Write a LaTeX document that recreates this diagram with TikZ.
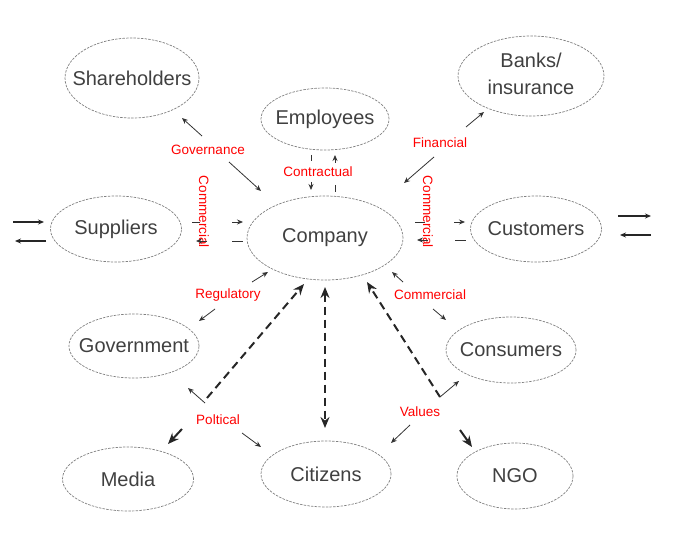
\documentclass[tikz,border=0pt]{standalone}
\usepackage{fontspec}
\setmainfont{Liberation Sans}
\usetikzlibrary{shapes.geometric,arrows.meta}
\definecolor{txt}{gray}{0.25}
\definecolor{edgec}{gray}{0.5}
\tikzset{
  stake/.style={ellipse, draw=edgec, dash pattern=on 2.5pt off 1.2pt, line width=0.7pt,
    inner sep=0pt, font=\fontsize{20}{27}\selectfont, text=txt},
  thinarr/.style={-{Stealth[length=6pt,width=5pt]}, line width=0.8pt, draw=black!80},
  tickline/.style={line width=0.9pt, draw=black!80},
  bigarr/.style={-{Stealth[length=11pt,width=9pt]}, line width=2pt, draw=black!85},
  bigdash/.style={bigarr, dash pattern=on 8pt off 5pt},
  sidearr/.style={-{Stealth[length=6pt,width=5pt]}, line width=1.1pt, draw=black!85},
  rel/.style={text=red, font=\fontsize{13.5}{15}\selectfont, inner sep=1pt},
}
\begin{document}
\begin{tikzpicture}[x=1pt,y=-1pt]
\useasboundingbox (0,0) rectangle (676,537);
% stakeholders
\node[stake, minimum width=134pt, minimum height=80pt] (sh) at (132,78) {\makebox[0pt]{Shareholders}};
\node[stake, minimum width=128pt, minimum height=62pt] (emp) at (325,119) {\makebox[0pt]{Employees}};
\node[stake, minimum width=146pt, minimum height=80pt] (bank) at (531,76) {\makebox[0pt]{\begin{tabular}{@{}c@{}}Banks/\\insurance\end{tabular}}};
\node[stake, minimum width=131pt, minimum height=66pt] (sup) at (116,229) {\makebox[0pt]{Suppliers}};
\node[stake, minimum width=156pt, minimum height=84pt] (comp) at (325,238) {\makebox[0pt]{Company}};
\node[stake, minimum width=131pt, minimum height=66pt] (cust) at (536,229) {\makebox[0pt]{Customers}};
\node[stake, minimum width=130pt, minimum height=64pt] (gov) at (134,346) {\makebox[0pt]{Government}};
\node[stake, minimum width=130pt, minimum height=66pt] (cons) at (511,350) {\makebox[0pt]{Consumers}};
\node[stake, minimum width=131pt, minimum height=64pt] (media) at (128,479) {\makebox[0pt]{Media}};
\node[stake, minimum width=130pt, minimum height=66pt] (cit) at (326,474) {\makebox[0pt]{Citizens}};
\node[stake, minimum width=116pt, minimum height=66pt] (ngo) at (515,476) {\makebox[0pt]{NGO}};

% relation labels
\node[rel] (lgov) at (208,150) {Governance};
\node[rel] (lfin) at (440,143) {Financial};
\node[rel] (lcon) at (318,172) {Contractual};
\node[rel, rotate=-90] (lcs) at (204,212) {Commercial};
\node[rel, rotate=-90] (lcc) at (428,212) {Commercial};
\node[rel] (lreg) at (228,295) {Regulatory};
\node[rel] (lcom) at (430,295) {Commercial};
\node[rel] (lpol) at (218,420) {Poltical};
\node[rel] (lval) at (420,412) {Values};

% governance
\coordinate (g1) at (202,136); \coordinate (g1t) at (182,118);
\coordinate (g2) at (229,162); \coordinate (g2t) at (261,191);
\draw[thinarr] (g1) -- (g1t);
\draw[thinarr] (g2) -- (g2t);
% financial
\coordinate (f1) at (466,127); \coordinate (f1t) at (484,112);
\coordinate (f2) at (434,157); \coordinate (f2t) at (404,183);
\draw[thinarr] (f1) -- (f1t);
\draw[thinarr] (f2) -- (f2t);
% contractual
\coordinate (c1a) at (311,155); \coordinate (c1b) at (311,161);
\coordinate (c2a) at (311,182); \coordinate (c2t) at (311,190);
\coordinate (c3a) at (335,163); \coordinate (c3t) at (335,155);
\coordinate (c4a) at (335,185); \coordinate (c4b) at (335,192);
\draw[tickline] (c1a) -- (c1b);
\draw[thinarr] (c2a) -- (c2t);
\draw[thinarr] (c3a) -- (c3t);
\draw[tickline] (c4a) -- (c4b);
% suppliers - company
\coordinate (s1a) at (192,222); \coordinate (s1b) at (200,222);
\coordinate (s2a) at (232,222); \coordinate (s2t) at (243,222);
\coordinate (s3a) at (207,241); \coordinate (s3t) at (196,241);
\coordinate (s4a) at (232,241); \coordinate (s4b) at (243,241);
\draw[tickline] (s1a) -- (s1b);
\draw[thinarr] (s2a) -- (s2t);
\draw[thinarr] (s3a) -- (s3t);
\draw[tickline] (s4a) -- (s4b);
% company - customers
\coordinate (k1a) at (415,222); \coordinate (k1b) at (425,222);
\coordinate (k2a) at (454,222); \coordinate (k2t) at (465,222);
\coordinate (k3a) at (428,240); \coordinate (k3t) at (417,240);
\coordinate (k4a) at (455,240); \coordinate (k4b) at (466,240);
\draw[tickline] (k1a) -- (k1b);
\draw[thinarr] (k2a) -- (k2t);
\draw[thinarr] (k3a) -- (k3t);
\draw[tickline] (k4a) -- (k4b);
% outer side arrows
\coordinate (o1a) at (13,222); \coordinate (o1t) at (44,222);
\coordinate (o2a) at (46,241); \coordinate (o2t) at (15,241);
\coordinate (o3a) at (618,216); \coordinate (o3t) at (651,216);
\coordinate (o4a) at (651,235); \coordinate (o4t) at (620,235);
\draw[sidearr] (o1a) -- (o1t);
\draw[sidearr] (o2a) -- (o2t);
\draw[sidearr] (o3a) -- (o3t);
\draw[sidearr] (o4a) -- (o4t);
% regulatory
\coordinate (r1) at (252,282); \coordinate (r1t) at (268,272);
\coordinate (r2) at (215,309); \coordinate (r2t) at (199,321);
\draw[thinarr] (r1) -- (r1t);
\draw[thinarr] (r2) -- (r2t);
% commercial (consumers)
\coordinate (m1) at (403,282); \coordinate (m1t) at (392,272);
\coordinate (m2) at (433,309); \coordinate (m2t) at (446,320);
\draw[thinarr] (m1) -- (m1t);
\draw[thinarr] (m2) -- (m2t);
% political
\coordinate (p0) at (207,398); \coordinate (p0t) at (304,284);
\coordinate (p1) at (205,403); \coordinate (p1t) at (188,388);
\coordinate (p2) at (182,429); \coordinate (p2t) at (168,444);
\coordinate (p3) at (242,433); \coordinate (p3t) at (261,447);
\draw[bigdash] (p0) -- (p0t);
\draw[thinarr] (p1) -- (p1t);
\draw[bigarr] (p2) -- (p2t);
\draw[thinarr] (p3) -- (p3t);
% citizens vertical
\coordinate (v1) at (325,287); \coordinate (v2) at (325,428);
\draw[bigdash, {Stealth[length=11pt,width=9pt]}-{Stealth[length=11pt,width=9pt]}] (v1) -- (v2);
% values
\coordinate (w0) at (440,397); \coordinate (w0t) at (367,282);
\coordinate (w1t) at (459,381);
\coordinate (w2) at (410,425); \coordinate (w2t) at (391,443);
\coordinate (w3) at (460,430); \coordinate (w3t) at (472,447);
\draw[bigdash] (w0) -- (w0t);
\draw[thinarr] (w0) -- (w1t);
\draw[thinarr] (w2) -- (w2t);
\draw[bigarr] (w3) -- (w3t);
\end{tikzpicture}
\end{document}
